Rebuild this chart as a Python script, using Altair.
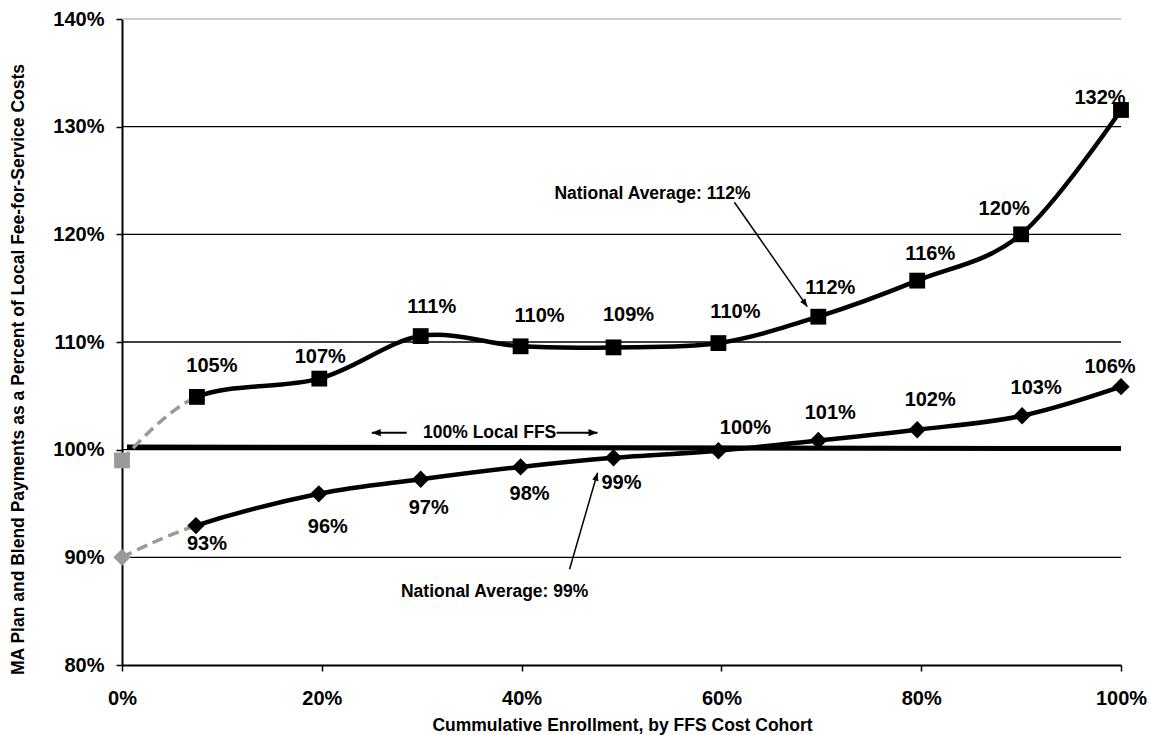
import altair as alt
import pandas as pd

FONT = "Liberation Sans"

# ---------------- data ----------------
x_upper = [0, 7.5, 19.75, 29.9, 39.9, 49.2, 59.7, 69.7, 79.6, 90.0, 100]
y_upper = [99.0, 104.9, 106.6, 110.55, 109.6, 109.5, 109.9, 112.35, 115.7, 120.0, 131.55]
lab_upper = ["", "105%", "107%", "111%", "110%", "109%", "110%", "112%", "116%", "120%", "132%"]

x_lower = [0, 7.4, 19.7, 29.9, 39.9, 49.2, 59.7, 69.7, 79.6, 90.1, 100]
y_lower = [90.0, 92.95, 95.9, 97.25, 98.4, 99.25, 99.9, 100.85, 101.85, 103.15, 105.85]
lab_lower = ["", "93%", "96%", "97%", "98%", "99%", "100%", "101%", "102%", "103%", "106%"]

ffs_x = [0.5, 100]
ffs_y = [100.25, 100.1]

grid_black = [90, 100, 110, 120, 130]
grid_gray = [140]
x_ticks = [0, 20, 40, 60, 80, 100]
y_ticks = [80, 90, 100, 110, 120, 130, 140]

ann_text = ["National Average: 112%", "National Average: 99%", "100% Local FFS"]
ann_x = [53.1, 37.3, 36.8]
ann_y = [123.74, 86.79, 101.58]

arr_x1 = [61.3, 44.8, 28.5, 43.5]
arr_y1 = [122.98, 88.9, 101.58, 101.58]
arr_x2 = [68.6, 47.6, 25.0, 47.6]
arr_y2 = [113.28, 97.86, 101.58, 101.58]

# label offsets (pixels) – style only
off_upper = [None, (15, -31), (1, -22), (11, -29), (19, -30), (15, -32), (17, -31),
             (12, -29), (13, -27), (-17, -25), (-21, -12)]
off_lower = [None, (11, 18), (9, 33), (8, 29), (9, 27), (8, 25), (27, -23),
             (12, -28), (13, -30), (14, -28), (-11, -20)]
arr_angle = [145, 16, 270, 90]
arr_width = [1.5, 1.5, 2, 2]
arr_size = [256, 256, 324, 324]

# ---------------- frames ----------------
up = pd.DataFrame({"x": x_upper, "y": y_upper, "label": lab_upper})
lo = pd.DataFrame({"x": x_lower, "y": y_lower, "label": lab_lower})
ffs = pd.DataFrame({"x": ffs_x, "y": ffs_y})

xs = alt.Scale(domain=[0, 100], nice=False, zero=False)
ys = alt.Scale(domain=[80, 140], nice=False, zero=False)

x_axis = alt.Axis(values=x_ticks, labelExpr="datum.value + '%'", grid=False,
                  tickSize=6, tickColor="black", tickWidth=1.5,
                  domainColor="black", domainWidth=2, labelFlush=False,
                  labelFont=FONT, labelFontWeight="bold", labelFontSize=20,
                  labelColor="black", labelPadding=17,
                  title="Cummulative Enrollment, by FFS Cost Cohort",
                  titleFont=FONT, titleFontWeight="bold", titleFontSize=17.5,
                  titleColor="black", titleX=500, titleY=65,
                  titleAlign="center", titleBaseline="alphabetic")
y_axis = alt.Axis(values=y_ticks, labelExpr="datum.value + '%'", grid=False,
                  tickSize=6, tickColor="black", tickWidth=1.5,
                  domainColor="black", domainWidth=2, labelFlush=False,
                  labelFont=FONT, labelFontWeight="bold", labelFontSize=20,
                  labelColor="black", labelPadding=12,
                  title="MA Plan and Blend Payments as a Percent of Local Fee-for-Service Costs",
                  titleFont=FONT, titleFontWeight="bold", titleFontSize=17.5,
                  titleColor="black", titleX=-104, titleY=350, titleAngle=270,
                  titleAlign="center", titleBaseline="middle")

X = alt.X("x:Q", scale=xs, axis=x_axis)
Y = alt.Y("y:Q", scale=ys, axis=y_axis)

layers = []

# gridlines
layers.append(alt.Chart(pd.DataFrame({"y": grid_black})).mark_rule(color="black", strokeWidth=1.3)
              .encode(y=alt.Y("y:Q", scale=ys, axis=y_axis)))
layers.append(alt.Chart(pd.DataFrame({"y": grid_gray})).mark_rule(color="#bdbdbd", strokeWidth=1.3)
              .encode(y=alt.Y("y:Q", scale=ys)))

# base axes layer (invisible points to carry axes)
layers.append(alt.Chart(up).mark_point(opacity=0).encode(x=X, y=Y))

# 100% local FFS thick line
layers.append(alt.Chart(ffs).mark_line(color="black", strokeWidth=5)
              .encode(x=alt.X("x:Q", scale=xs), y=alt.Y("y:Q", scale=ys)))

cut = 0.075
grad_black = alt.LinearGradient(gradient="linear", x1=0, x2=1, y1=0, y2=0, stops=[
    alt.GradientStop(offset=0, color="rgba(0,0,0,0)"),
    alt.GradientStop(offset=cut, color="rgba(0,0,0,0)"),
    alt.GradientStop(offset=cut + 0.0005, color="black"),
    alt.GradientStop(offset=1, color="black")])
grad_gray = alt.LinearGradient(gradient="linear", x1=0, x2=1, y1=0, y2=0, stops=[
    alt.GradientStop(offset=0, color="#9a9a9a"),
    alt.GradientStop(offset=cut, color="#9a9a9a"),
    alt.GradientStop(offset=cut + 0.0005, color="rgba(0,0,0,0)"),
    alt.GradientStop(offset=1, color="rgba(0,0,0,0)")])

for df, shape, size in [(up, "square", 250), (lo, "diamond", 300)]:
    enc = dict(x=alt.X("x:Q", scale=xs), y=alt.Y("y:Q", scale=ys), order="x:Q")
    layers.append(alt.Chart(df).mark_line(stroke=grad_gray, strokeWidth=3.5, strokeDash=[11, 6],
                                          interpolate="cardinal").encode(**enc))
    layers.append(alt.Chart(df).mark_line(stroke=grad_black, strokeWidth=4.5,
                                          interpolate="cardinal").encode(**enc))
    layers.append(alt.Chart(df.iloc[:1]).mark_point(shape=shape, size=size, filled=True,
                                                      color="#9a9a9a", opacity=1)
                  .encode(x=alt.X("x:Q", scale=xs), y=alt.Y("y:Q", scale=ys)))
    layers.append(alt.Chart(df.iloc[1:]).mark_point(shape=shape, size=size, filled=True,
                                                     color="black", opacity=1)
                  .encode(x=alt.X("x:Q", scale=xs), y=alt.Y("y:Q", scale=ys)))

# data labels
for df, offs in [(up, off_upper), (lo, off_lower)]:
    for i in range(1, len(df)):
        dx, dy = offs[i]
        layers.append(alt.Chart(df.iloc[i:i + 1]).mark_text(
            font=FONT, fontWeight="bold", fontSize=20, color="black",
            align="center", baseline="middle", dx=dx, dy=dy)
            .encode(x=alt.X("x:Q", scale=xs), y=alt.Y("y:Q", scale=ys), text="label:N"))

# annotation texts
ann = pd.DataFrame({"x": ann_x, "y": ann_y, "t": ann_text})
layers.append(alt.Chart(ann).mark_text(font=FONT, fontWeight="bold", fontSize=17.5, color="black",
                                       align="center", baseline="middle")
              .encode(x=alt.X("x:Q", scale=xs), y=alt.Y("y:Q", scale=ys), text="t:N"))

# arrows
for i in range(len(arr_x1)):
    a = pd.DataFrame({"x": [arr_x1[i]], "y": [arr_y1[i]], "x2": [arr_x2[i]], "y2": [arr_y2[i]]})
    layers.append(alt.Chart(a).mark_rule(color="black", strokeWidth=arr_width[i])
                  .encode(x=alt.X("x:Q", scale=xs), y=alt.Y("y:Q", scale=ys), x2="x2:Q", y2="y2:Q"))
    layers.append(alt.Chart(a).mark_point(shape="M0,0L-0.4,1L0.4,1Z", size=arr_size[i], filled=True,
                                          color="black", opacity=1, angle=arr_angle[i])
                  .encode(x=alt.X("x2:Q", scale=xs), y=alt.Y("y2:Q", scale=ys)))

chart = alt.layer(*layers).properties(
    width=999, height=646,
    padding={"left": 122, "top": 19, "right": 30, "bottom": 70},
    autosize=alt.AutoSizeParams(type="none"),
    background="white",
).configure_view(stroke=None)

chart.save("out.html", embed_options={"renderer": "svg", "actions": False})
